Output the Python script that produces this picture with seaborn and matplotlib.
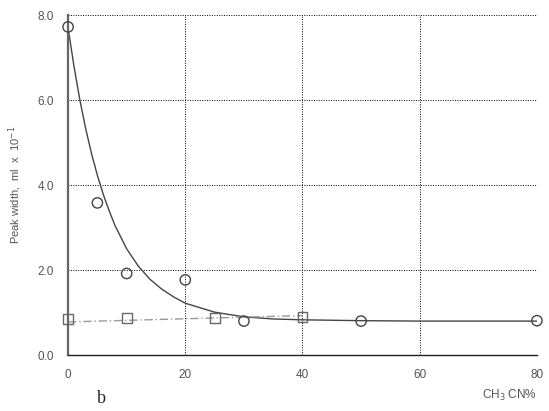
import matplotlib
matplotlib.use('Agg')
import matplotlib.pyplot as plt
import seaborn as sns

# measured points (circles / squares)
circle_x = [0, 5, 10, 20, 30, 50, 80]
circle_y = [7.72, 3.58, 1.92, 1.77, 0.80, 0.80, 0.81]
square_x = [0, 10, 25, 40]
square_y = [0.84, 0.87, 0.87, 0.89]

# fitted curves
curve_x = [0, 1, 2, 3, 4, 5, 6, 7, 8, 10, 12, 14, 16, 18, 20, 25, 30, 35, 40, 50, 60, 70, 80]
curve_y = [7.70, 6.80, 6.01, 5.33, 4.74, 4.23, 3.78, 3.40, 3.05, 2.50, 2.09, 1.78, 1.55, 1.37, 1.22, 1.01, 0.90, 0.85, 0.83, 0.81, 0.80, 0.80, 0.80]
dash_x = [0, 40]
dash_y = [0.78, 0.93]

sns.set_style('white')
plt.rcParams['font.family'] = ['Liberation Sans', 'DejaVu Sans']

fig = plt.figure(figsize=(5.49, 4.11), dpi=100)
ax = fig.add_axes([0.124, 0.136, 0.854, 0.8275])

sns.lineplot(x=curve_x, y=curve_y, ax=ax, color='#444444', lw=1.0)
sns.lineplot(x=dash_x, y=dash_y, ax=ax, color='#999999', lw=1.0, linestyle=(0, (6, 2, 1, 2)))
sns.scatterplot(x=circle_x, y=circle_y, ax=ax, marker='o', s=55, facecolor='none',
                edgecolor='#444444', linewidth=1.0, zorder=5, clip_on=False)
sns.scatterplot(x=square_x, y=square_y, ax=ax, marker='s', s=50, facecolor='none',
                edgecolor='#666666', linewidth=1.0, zorder=5, clip_on=False)

ax.set_xlim(0, 80)
ax.set_ylim(0, 8)
ax.set_xticks([0, 20, 40, 60, 80])
ax.set_yticks([0, 2, 4, 6, 8])
ax.set_yticklabels(['0.0', '2.0', '4.0', '6.0', '8.0'])
ax.grid(True, color='black', linestyle=(0, (1, 1.5)), lw=0.7)
for s in ['top', 'right']:
    ax.spines[s].set_visible(False)
ax.spines['left'].set_color('#666666')
ax.spines['left'].set_linewidth(1.6)
ax.spines['bottom'].set_color('#222222')
ax.spines['bottom'].set_linewidth(1.0)
ax.tick_params(axis='both', direction='inout', length=8, width=1.0, color='#333333',
               labelsize=8.5, labelcolor='#555555', pad=6)

ax.set_ylabel('Peak width,  ml  x  10$^{-1}$', fontsize=8, color='#555555', labelpad=10)
ax.text(1.0, -0.095, 'CH$_3$ CN%', transform=ax.transAxes, ha='right', va='top',
        fontsize=8.5, color='#555555')
fig.text(0.177, 0.01, 'b', fontsize=13, family='Liberation Serif', ha='left', va='bottom')

fig.savefig('out.png', dpi=100)
